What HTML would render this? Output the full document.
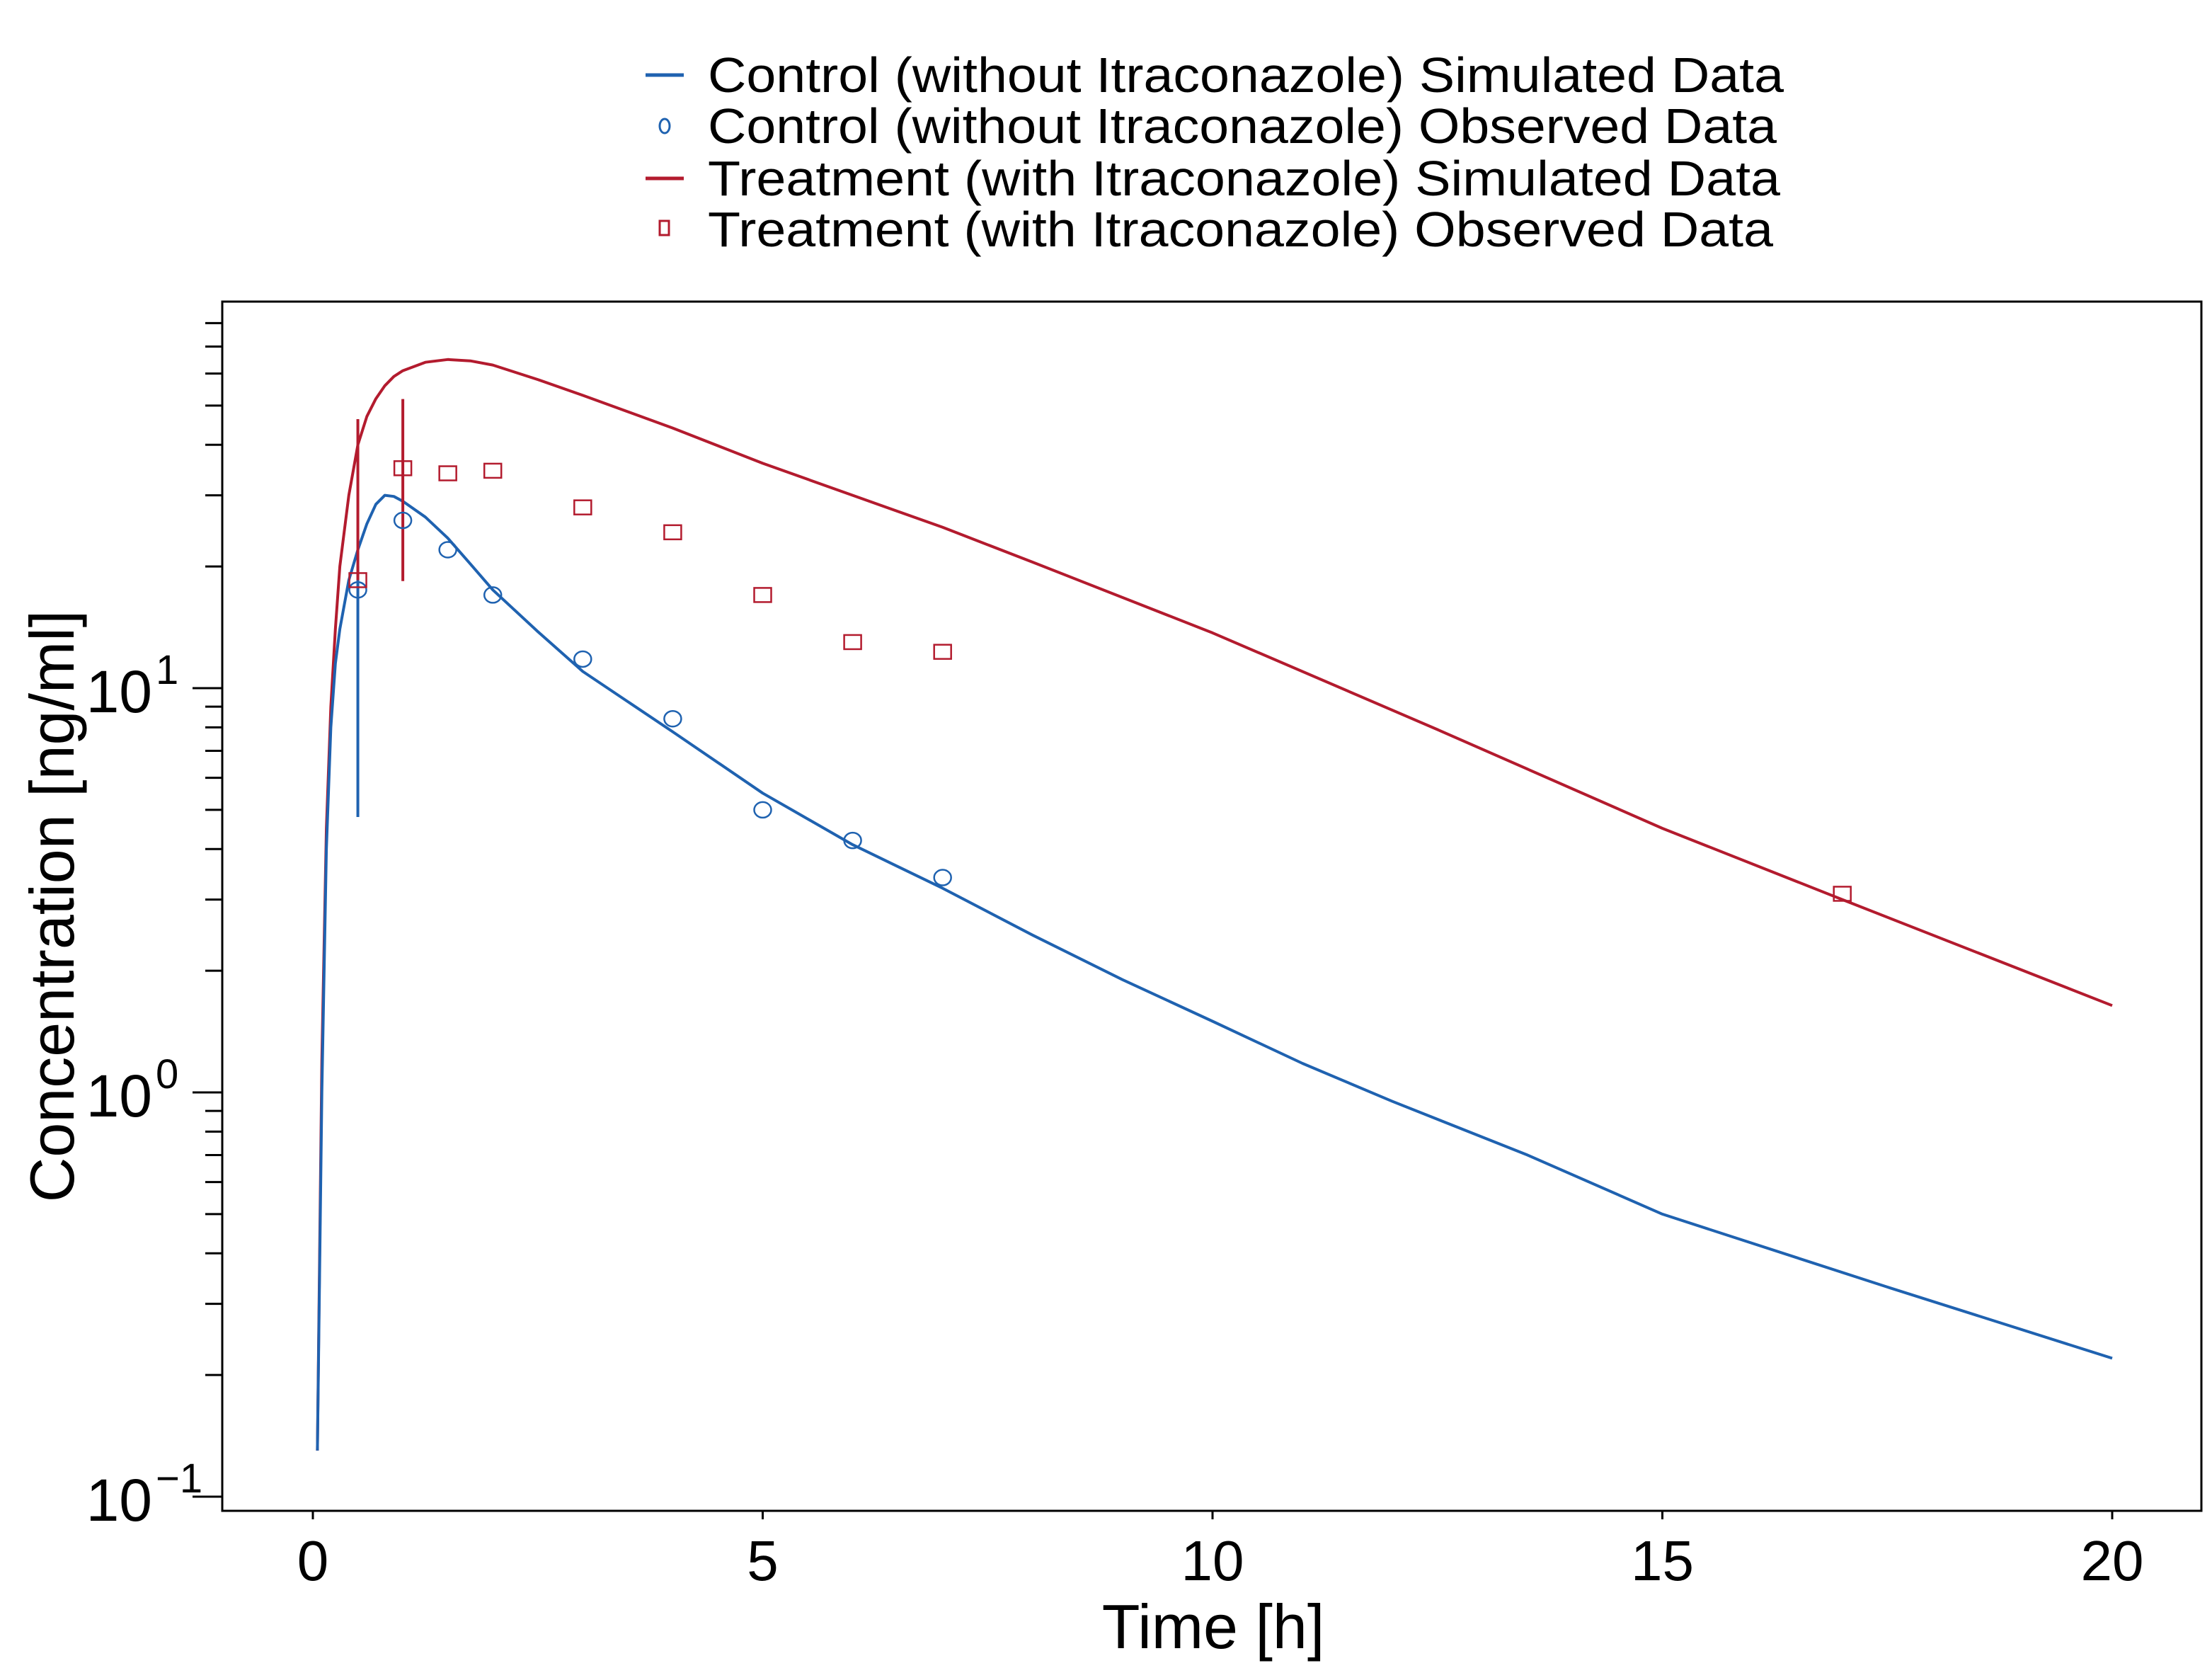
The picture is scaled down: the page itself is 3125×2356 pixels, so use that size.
<!DOCTYPE html>
<html><head><meta charset="utf-8"><style>
html,body{margin:0;padding:0;background:#fff;}
svg{display:block;font-family:"Liberation Sans",Arial,sans-serif;}
</style></head><body>
<svg id="chart" width="3125" height="2356" viewBox="0 0 3125 2356" xmlns="http://www.w3.org/2000/svg">
<rect width="3125" height="2356" fill="#fff"/>
<g id="legend">
 <g>
  <line x1="912" y1="106" x2="966" y2="106" stroke="#1f62b0" stroke-width="5"/>
  <text x="1000" y="130" font-size="70" textLength="1520" lengthAdjust="spacingAndGlyphs">Control (without Itraconazole) Simulated Data</text>
 </g>
 <g>
  <ellipse cx="939" cy="178" rx="7" ry="10" fill="none" stroke="#1f62b0" stroke-width="3"/>
  <text x="1000" y="202" font-size="70" textLength="1510" lengthAdjust="spacingAndGlyphs">Control (without Itraconazole) Observed Data</text>
 </g>
 <g>
  <line x1="912" y1="252" x2="966" y2="252" stroke="#b31b2e" stroke-width="5"/>
  <text x="1000" y="276" font-size="70" textLength="1515" lengthAdjust="spacingAndGlyphs">Treatment (with Itraconazole) Simulated Data</text>
 </g>
 <g>
  <rect x="932" y="312" width="13" height="20" fill="none" stroke="#b31b2e" stroke-width="3"/>
  <text x="1000" y="348" font-size="70" textLength="1505" lengthAdjust="spacingAndGlyphs">Treatment (with Itraconazole) Observed Data</text>
 </g>
</g>
<rect x="314" y="426" width="2796" height="1708" fill="none" stroke="#000" stroke-width="3"/>
<g id="axes"></g>
<g id="marks"></g>
<text x="1714" y="2328" font-size="88" text-anchor="middle">Time [h]</text>
<text transform="translate(104,1280) rotate(-90)" font-size="88" text-anchor="middle">Concentration [ng/ml]</text>
</svg>
<script>
const xTicks=[0,5,10,15,20];
const yDecades=[-1,0,1];
const ctrlSimT=[0.05,0.1,0.15,0.2,0.25,0.3,0.4,0.5,0.6,0.7,0.8,0.9,1,1.25,1.5,1.75,2,2.5,3,4,5,6,7,8,9,10,11,12,13.5,15,17.5,20];
const ctrlSimC=[0.13,1.0,4.0,8,11.5,14,18.5,22,25.5,28.5,30,29.8,29,26.5,23.5,20.3,17.5,13.8,11,7.8,5.5,4.1,3.2,2.45,1.9,1.5,1.18,0.95,0.7,0.5,0.33,0.22];
const trtSimT=[0.05,0.1,0.15,0.2,0.25,0.3,0.4,0.5,0.6,0.7,0.8,0.9,1,1.25,1.5,1.75,2,2.5,3,4,5,6,7,8,10,12.5,15,17,20];
const trtSimC=[0.13,1.2,4.5,9,14,20,30,40,47,52,56,59,61,64,65,64.5,63,58,53,44,36,30,25,20.5,13.7,7.9,4.5,3.0,1.64];
const ctrlObsT=[0.5,1,1.5,2,3,4,5,6,7];
const ctrlObsC=[17.5,26,22,17,11.8,8.4,5.0,4.2,3.4];
const trtObsT=[0.5,1,1.5,2,3,4,5,6,7,17];
const trtObsC=[18.5,35,34,34.5,28,24.3,17,13,12.3,3.1];
const ctrlErrT=[0.5];const ctrlErrLo=[4.8];const ctrlErrHi=[20];
const trtErrT=[0.5,1];const trtErrLo=[18.5,18.4];const trtErrHi=[46.3,51.9];

const NS="http://www.w3.org/2000/svg";
const X=t=>442+t*127.1;
const Y=c=>972-571*(Math.log10(c)-1);
const BLUE="#1f62b0",RED="#b31b2e";
function mk(tag,attrs,parent){const e=document.createElementNS(NS,tag);for(const k in attrs)e.setAttribute(k,attrs[k]);parent.appendChild(e);return e;}
const ax=document.getElementById('axes'),mg=document.getElementById('marks');
xTicks.forEach(t=>{
 const l=mk('line',{x1:X(t),x2:X(t),y1:2134,y2:2146,stroke:'#000','stroke-width':3},ax);
 
 
 const tx=mk('text',{x:X(t),y:2232,'font-size':80,'text-anchor':'middle'},ax);
 tx.textContent=t;
 
 
});
yDecades.forEach(d=>{
 const y=Y(Math.pow(10,d));
 const l=mk('line',{x1:272,x2:314,y1:y,y2:y,stroke:'#000','stroke-width':3},ax);
 
 
 const tx=mk('text',{x:215,y:y+34,'font-size':84,'text-anchor':'end'},ax);
 tx.textContent='10';
 
 
 const sp=mk('text',{x:220,y:y-6,'font-size':58},ax);
 sp.textContent=(d<0?'\u2212':'')+Math.abs(d);
 
 
 for(let m=2;m<=9;m++){
  const v=m*Math.pow(10,d),yy=Y(v);
  if(yy<430)continue;
  const ml=mk('line',{x1:290,x2:314,y1:yy,y2:yy,stroke:'#000','stroke-width':3},ax);
  
  
 }
});
function path(T,C,color,name){
 const d=T.map((t,i)=>(i?'L':'M')+X(t).toFixed(1)+','+Y(C[i]).toFixed(1)).join(' ');
 const p=mk('path',{d:d,fill:'none',stroke:color,'stroke-width':4,'stroke-linejoin':'round'},mg);
 
 
}
function errs(T,L,H,color,name){
 T.forEach((t,i)=>{
  const l=mk('line',{x1:X(t),x2:X(t),y1:Y(L[i]),y2:Y(H[i]),stroke:color,'stroke-width':4},mg);
  
  
 });
}
path(trtSimT,trtSimC,RED,'treatment-simulated-line');
path(ctrlSimT,ctrlSimC,BLUE,'control-simulated-line');
errs(ctrlErrT,ctrlErrLo,ctrlErrHi,BLUE,'control-error-bar');
errs(trtErrT,trtErrLo,trtErrHi,RED,'treatment-error-bar');
ctrlObsT.forEach((t,i)=>{
 const c=mk('ellipse',{cx:X(t),cy:Y(ctrlObsC[i]),rx:12,ry:11,fill:'none',stroke:BLUE,'stroke-width':2.5},mg);
 
 
});
trtObsT.forEach((t,i)=>{
 const r=mk('rect',{x:X(t)-12,y:Y(trtObsC[i])-10,width:24,height:20,fill:'none',stroke:RED,'stroke-width':2.5},mg);
 
 
});
</script>
</body></html>
